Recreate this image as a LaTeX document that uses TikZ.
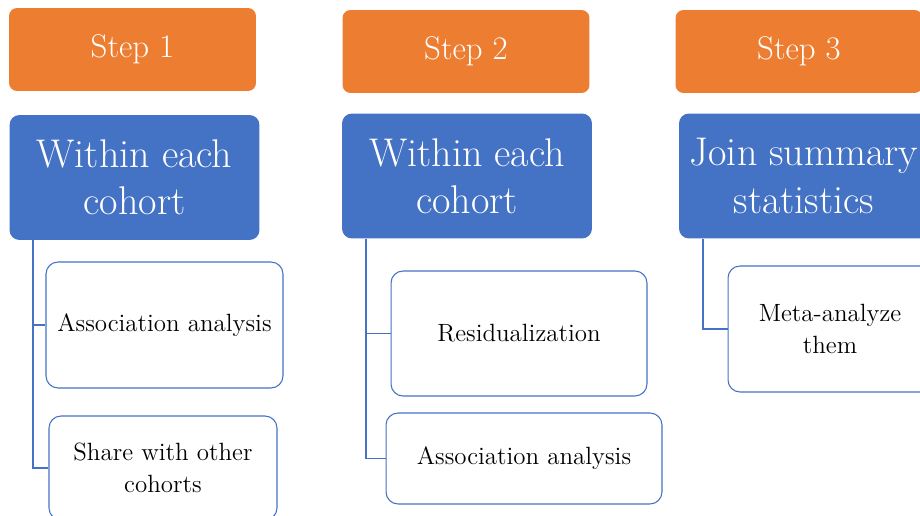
\documentclass[tikz,border=0pt]{standalone}
\usepackage{fontspec}
\definecolor{steporange}{HTML}{ED7D31}
\definecolor{phaseblue}{HTML}{4472C4}
\tikzset{
  stepbox/.style={fill=steporange, text=white, rounded corners=0.16cm,
    minimum width=4.94cm, minimum height=1.66cm, font=\fontsize{18.7}{22}\selectfont},
  phasebox/.style={fill=phaseblue, text=white, rounded corners=0.2cm, align=center,
    minimum width=5cm, minimum height=2.5cm, font=\fontsize{22.8}{27}\selectfont},
  taskbox/.style={draw=phaseblue, fill=white, line width=0.6pt, rounded corners=0.24cm,
    align=center, font=\fontsize{14.2}{18}\selectfont},
  link/.style={draw=phaseblue, line width=0.7pt}
}
\begin{document}
\begin{tikzpicture}[x=0.02cm,y=-0.02cm]
    \useasboundingbox (0,0) rectangle (920,516);
    \clip (0,0) rectangle (920,516);
    \node[stepbox] (step1) at (132.5,49.5) {Step 1};
    \node[stepbox] (step2) at (466,51.5) {Step 2};
    \node[stepbox] (step3) at (799,51.5) {Step 3};

    \node[phasebox] (phase1) at (134.5,177.5) {Within each\\cohort};
    \node[phasebox] (phase2) at (467,176) {Within each\\cohort};
    \node[phasebox] (phase3) at (804,176) {Join summary\\statistics};

    \node[taskbox, minimum width=4.74cm, minimum height=2.52cm] (assoc1) at (164.5,325) {Association analysis};
    \node[taskbox, minimum width=4.56cm, minimum height=2.08cm] (share1) at (163,468) {Share with other\\cohorts};
    \node[taskbox, minimum width=5.12cm, minimum height=2.5cm] (resid2) at (519,333.5) {Residualization};
    \node[taskbox, minimum width=5.52cm, minimum height=1.82cm] (assoc2) at (524,458.5) {Association analysis};
    \node[taskbox, minimum width=4.08cm, minimum height=2.52cm] (meta3) at (830,329) {Meta-analyze\\them};

    \coordinate (trunk1) at (33,240);
    \coordinate (trunk2) at (366,238);
    \coordinate (trunk3) at (703,238);
    % \draw[link] (phase1.south) -- (assoc1.north);
    \draw[link] (phase1.south -| trunk1) |- (share1.west);
    \draw[link] (trunk1 |- assoc1.west) -- (assoc1.west);
    \draw[link] (phase2.south -| trunk2) |- (assoc2.west);
    \draw[link] (trunk2 |- resid2.west) -- (resid2.west);
    \draw[link] (phase3.south -| trunk3) |- (meta3.west);
\end{tikzpicture}
\end{document}
